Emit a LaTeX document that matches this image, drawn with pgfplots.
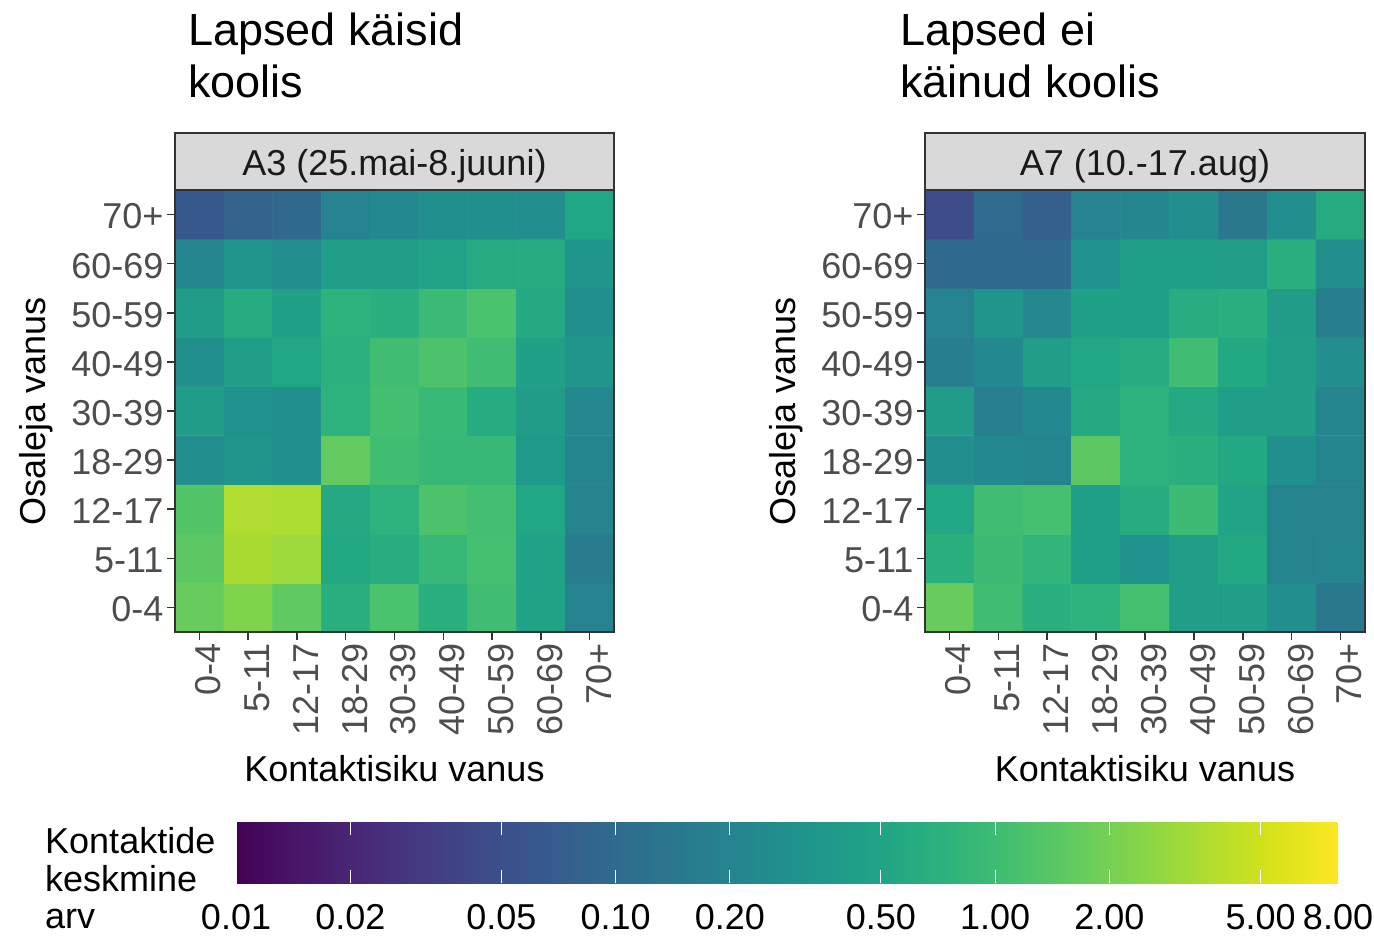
\documentclass[border=0pt]{standalone}
\usepackage{pgfplots}
\pgfplotsset{compat=1.18}
\usepackage{fontspec}
\setmainfont{Liberation Sans}
\definecolor{tickgray}{HTML}{4D4D4D}
\definecolor{framegray}{HTML}{333333}
\definecolor{stripgray}{HTML}{D9D9D9}
\definecolor{textblack}{HTML}{1A1A1A}
\newcommand{\fs}{\fontsize{36}{40}\selectfont}
\newcommand{\ft}{\fontsize{45}{52}\selectfont}
\pgfplotsset{
 heat/.style={
  scale only axis, width=439pt, height=442pt,
  xmin=-0.5, xmax=8.5, ymin=-0.5, ymax=8.5,
  xtick={0,...,8}, ytick={0,...,8},
  xticklabels={0-4,5-11,12-17,18-29,30-39,40-49,50-59,60-69,70+},
  yticklabels={0-4,5-11,12-17,18-29,30-39,40-49,50-59,60-69,70+},
  tick align=outside, major tick length=8pt, tick pos=left,
  tick style={framegray, line width=1.5pt},
  axis line style={framegray, line width=1.5pt},
  tick label style={font=\fs, text=tickgray},
  xticklabel style={xshift=9pt, rotate=90, anchor=east},
  yticklabel style={yshift=-2pt},
  label style={font=\fs, text=black},
  xlabel={Kontaktisiku vanus}, ylabel={Osaleja vanus},
  xlabel style={at={(axis description cs:0.5,-0.339)}, anchor=base},
  ylabel style={at={(axis description cs:-0.294,0.5)}, anchor=base},
  colormap/viridis,
  point meta min=-2, point meta max=0.90309,
  enlargelimits=false, axis on top,
 }
}
\begin{document}
\begin{tikzpicture}
\useasboundingbox (0,0) rectangle (1374pt,936pt);
% Left panel: A3
\begin{axis}[heat, at={(175pt,304pt)}, anchor=south west,
  colorbar horizontal,
  colorbar/width=61pt,
  colorbar style={
    at={(0.139,-0.43)}, anchor=north west,
    scale only axis, width=1102pt, height=61pt,
    xtick={-2,-1.69897,-1.30103,-1,-0.69897,-0.30103,0,0.30103,0.69897,0.90309},
    xticklabels={0.01,0.02,0.05,0.10,0.20,0.50,1.00,2.00,5.00,8.00},
    xticklabel style={font=\fs, text=black, anchor=base, yshift=-46pt},
    axis line style={draw=none},
    tick align=inside, tick pos=both, major tick length=13pt,
    xtick style={white, line width=1pt},
  }]
\addplot[matrix plot*, mesh/cols=9, point meta={log10(\thisrow{v})}] table[row sep=\\] {
x y v\\
0 0 1.72\\ 1 0 2.25\\ 2 0 1.56\\ 3 0 0.674\\ 4 0 1.19\\ 5 0 0.674\\ 6 0 1.01\\ 7 0 0.467\\ 8 0 0.189\\
0 1 1.46\\ 1 1 3.40\\ 2 1 3.00\\ 3 1 0.552\\ 4 1 0.631\\ 5 1 0.881\\ 6 1 1.11\\ 7 1 0.467\\ 8 1 0.160\\
0 2 1.32\\ 1 2 3.65\\ 2 2 3.55\\ 3 2 0.571\\ 4 2 0.746\\ 5 2 1.23\\ 6 2 1.08\\ 7 2 0.534\\ 8 2 0.202\\
0 3 0.265\\ 1 3 0.323\\ 2 3 0.283\\ 3 3 1.61\\ 4 3 1.04\\ 5 3 0.881\\ 6 3 0.881\\ 7 3 0.369\\ 8 3 0.209\\
0 4 0.395\\ 1 4 0.302\\ 2 4 0.283\\ 3 4 0.746\\ 4 4 1.08\\ 5 4 0.911\\ 6 4 0.610\\ 7 4 0.395\\ 8 4 0.224\\
0 5 0.283\\ 1 5 0.422\\ 2 5 0.534\\ 3 5 0.721\\ 4 5 1.04\\ 5 5 1.23\\ 6 5 1.01\\ 7 5 0.452\\ 8 5 0.323\\
0 6 0.395\\ 1 6 0.610\\ 2 6 0.452\\ 3 6 0.746\\ 4 6 0.674\\ 5 6 0.942\\ 6 6 1.19\\ 7 6 0.571\\ 8 6 0.283\\
0 7 0.216\\ 1 7 0.323\\ 2 7 0.265\\ 3 7 0.422\\ 4 7 0.422\\ 5 7 0.483\\ 6 7 0.590\\ 7 7 0.610\\ 8 7 0.323\\
0 8 0.061\\ 1 8 0.079\\ 2 8 0.094\\ 3 8 0.189\\ 4 8 0.231\\ 5 8 0.283\\ 6 8 0.283\\ 7 8 0.265\\ 8 8 0.516\\
};
\end{axis}
% Right panel: A7
\begin{axis}[heat, width=440pt, at={(925pt,304pt)}, anchor=south west]
\addplot[matrix plot*, mesh/cols=9, point meta={log10(\thisrow{v})}] table[row sep=\\] {
x y v\\
0 0 1.72\\ 1 0 1.01\\ 2 0 0.674\\ 3 0 0.746\\ 4 0 1.11\\ 5 0 0.422\\ 6 0 0.422\\ 7 0 0.265\\ 8 0 0.145\\
0 1 0.674\\ 1 1 0.974\\ 2 1 0.797\\ 3 1 0.437\\ 4 1 0.302\\ 5 1 0.422\\ 6 1 0.552\\ 7 1 0.196\\ 8 1 0.209\\
0 2 0.534\\ 1 2 1.01\\ 2 2 1.11\\ 3 2 0.437\\ 4 2 0.610\\ 5 2 0.974\\ 6 2 0.499\\ 7 2 0.196\\ 8 2 0.196\\
0 3 0.265\\ 1 3 0.231\\ 2 3 0.209\\ 3 3 1.50\\ 4 3 0.746\\ 5 3 0.674\\ 6 3 0.552\\ 7 3 0.283\\ 8 3 0.209\\
0 4 0.395\\ 1 4 0.183\\ 2 4 0.231\\ 3 4 0.571\\ 4 4 0.746\\ 5 4 0.571\\ 6 4 0.422\\ 7 4 0.422\\ 8 4 0.209\\
0 5 0.177\\ 1 5 0.231\\ 2 5 0.422\\ 3 5 0.534\\ 4 5 0.610\\ 5 5 1.01\\ 6 5 0.552\\ 7 5 0.422\\ 8 5 0.265\\
0 6 0.189\\ 1 6 0.323\\ 2 6 0.224\\ 3 6 0.452\\ 4 6 0.437\\ 5 6 0.631\\ 6 6 0.674\\ 7 6 0.395\\ 8 6 0.177\\
0 7 0.097\\ 1 7 0.097\\ 2 7 0.097\\ 3 7 0.302\\ 4 7 0.437\\ 5 7 0.437\\ 6 7 0.422\\ 7 7 0.674\\ 8 7 0.265\\
0 8 0.0465\\ 1 8 0.100\\ 2 8 0.0743\\ 3 8 0.189\\ 4 8 0.216\\ 5 8 0.265\\ 6 8 0.145\\ 7 8 0.265\\ 8 8 0.590\\
};
\end{axis}
% facet strips
\draw[framegray, line width=1.5pt, fill=stripgray] (175pt,746pt) rectangle (614pt,803pt);
\node[anchor=base, inner sep=0pt, font=\fs, text=textblack] at (394.5pt,760pt) {A3 (25.mai-8.juuni)};
\draw[framegray, line width=1.5pt, fill=stripgray] (925pt,746pt) rectangle (1365pt,803pt);
\node[anchor=base, inner sep=0pt, font=\fs, text=textblack] at (1145pt,760pt) {A7 (10.-17.aug)};
% titles
\node[anchor=base west, inner sep=0pt, font=\ft] at (188pt,890pt) {Lapsed käisid};
\node[anchor=base west, inner sep=0pt, font=\ft] at (188pt,838pt) {koolis};
\node[anchor=base west, inner sep=0pt, font=\ft] at (900pt,890pt) {Lapsed ei};
\node[anchor=base west, inner sep=0pt, font=\ft] at (900pt,838pt) {käinud koolis};
% legend title
\node[anchor=base west, inner sep=0pt, font=\fs] at (45pt,82pt) {Kontaktide};
\node[anchor=base west, inner sep=0pt, font=\fs] at (45pt,44.5pt) {keskmine};
\node[anchor=base west, inner sep=0pt, font=\fs] at (45pt,7pt) {arv};
\end{tikzpicture}
\end{document}
